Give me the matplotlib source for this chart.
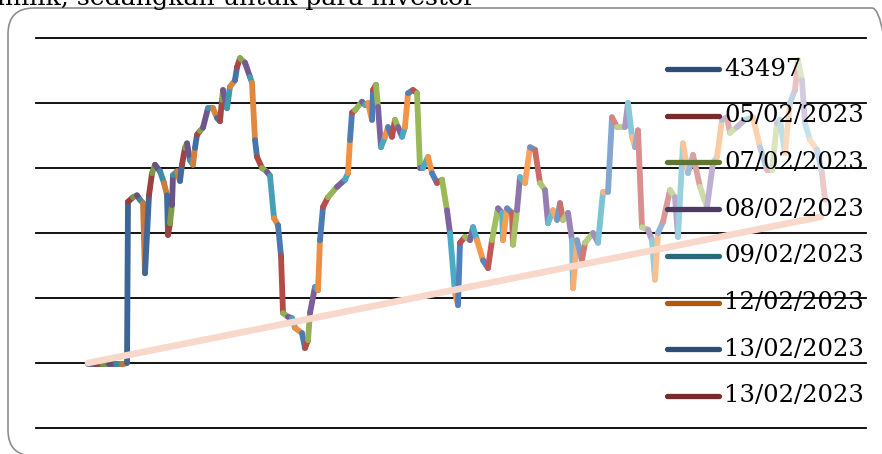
import matplotlib
matplotlib.use("Agg")
import matplotlib.pyplot as plt
import numpy as np
from matplotlib.patches import FancyBboxPatch
from matplotlib.lines import Line2D
import matplotlib.colors as mcolors

# ---------------- data ----------------
# x positions (chart units along the time axis) and series values
x_vals = [0, 7, 14, 21, 28, 34, 39,
          40, 45, 49, 52, 55, 57,
          61, 64, 67, 72, 76, 79, 80, 82, 84, 85, 89, 92, 94, 97, 99, 102, 105, 107, 109, 112, 115,
          120, 125, 129, 132, 134, 135, 139, 142, 147, 149, 152, 157, 162, 164, 167, 169, 174, 179,
          182, 186, 190, 193, 195, 200, 204, 207, 214, 217, 220, 222, 227, 230, 232, 235, 240, 249,
          257, 260, 262, 264, 267, 274, 277, 280, 284, 285, 288, 290, 293, 297, 300, 304, 307, 310,
          314, 317, 320, 325, 329, 332, 335, 340, 344, 349, 354, 359, 362, 367, 370, 372, 377, 382,
          385, 389, 395, 400, 404, 410, 414, 415, 419, 424, 425, 429, 432, 437, 442, 447, 452, 457,
          460, 465, 469, 472, 475, 480, 484, 485, 489, 494, 497, 505, 510, 515, 520, 524, 529, 537,
          540, 544, 547, 550, 554, 560, 564, 567, 570, 575, 582, 587, 590, 595, 600, 605, 612, 619,
          625, 629, 634, 639, 642, 649, 657, 665, 672, 679, 684, 689, 692, 697, 702, 707, 710, 714,
          717, 722, 729, 734, 737]
y_vals = [0.98, 0.98, 0.98, 0.98, 0.98, 0.98, 1.00,
          3.48, 3.55, 3.58, 3.51, 3.46, 2.38,
          3.58, 3.92, 4.05, 3.95, 3.77, 3.58, 2.97, 3.15, 3.43, 3.89, 3.95, 3.80, 4.05, 4.31, 4.38,
          4.12, 4.05, 4.31, 4.51, 4.57, 4.62, 4.92, 4.92, 4.77, 4.72, 5.05, 5.20, 4.92, 5.25, 5.35,
          5.55, 5.69, 5.62, 5.40, 5.31, 4.43, 4.17, 4.00, 3.94, 3.88, 3.23, 3.12, 2.65, 1.77, 1.71,
          1.69, 1.54, 1.46, 1.23, 1.35, 1.77, 2.17, 2.12, 2.89, 3.40, 3.55, 3.71, 3.82, 3.92, 4.43,
          4.85, 4.89, 5.02, 4.97, 5.00, 4.74, 5.20, 5.28, 4.94, 4.32, 4.48, 4.63, 4.48, 4.74, 4.63,
          4.48, 4.63, 5.15, 5.20, 5.15, 4.00, 4.00, 4.17, 3.92, 3.77, 3.82, 3.35, 3.00, 2.08, 1.89,
          2.85, 2.94, 2.89, 3.09, 2.89, 2.58, 2.46, 2.89, 3.38, 3.31, 2.89, 3.38, 3.31, 2.82, 3.35,
          3.86, 3.77, 4.32, 4.28, 3.77, 3.66, 3.15, 3.35, 3.20, 3.46, 3.20, 3.31, 2.89, 2.15, 2.89,
          2.58, 2.85, 3.00, 2.85, 3.63, 3.63, 4.78, 4.63, 4.63, 5.00, 4.48, 4.32, 4.58, 3.09, 3.05,
          2.89, 2.28, 3.00, 3.17, 3.66, 3.55, 2.94, 4.38, 3.92, 4.20, 3.71, 3.40, 4.08, 4.17, 4.74,
          4.78, 4.54, 4.63, 4.74, 4.78, 4.32, 3.97, 3.97, 4.69, 4.74, 4.23, 5.00, 5.20, 5.66, 5.35,
          4.69, 4.43, 4.28, 3.92, 3.51]

trend_x = [0, 733]
trend_y = [1.00, 3.25]

legend_labels = ["43497", "05/02/2023", "07/02/2023", "08/02/2023",
                 "09/02/2023", "12/02/2023", "13/02/2023", "13/02/2023"]
legend_colors = ["#2C4D75", "#772C2A", "#5F7530", "#4D3B62",
                 "#276A7C", "#B65708", "#2C4D75", "#772C2A"]

top_text = "milik, sedangkan untuk para investor"

# ---------------- style ----------------
palette = ["#4F81BD", "#C0504D", "#9BBB59", "#8064A2", "#4BACC6", "#F79646"]


def shade(hexc, f):
    r, g, b = mcolors.to_rgb(hexc)
    if f < 0:
        k = 1 + f
        return (r * k, g * k, b * k)
    return (r + (1 - r) * f, g + (1 - g) * f, b + (1 - b) * f)


def shade_factor(x):
    # darker at the start, full colour in the middle, lighter at the end
    return float(np.interp(x, [0, 210, 380, 560, 737], [-0.25, -0.05, 0.0, 0.38, 0.70]))


W, H = 882, 454
fig = plt.figure(figsize=(W / 100, H / 100), dpi=100)
fig.patch.set_facecolor("white")

# rounded outer frame (display pixel coords)
frame = FancyBboxPatch((8, -2), 890, 448, boxstyle="round,pad=0,rounding_size=26",
                       transform=None, facecolor="none", edgecolor="#8E8E8E",
                       linewidth=1.2, zorder=0)
fig.patches.append(frame)

# text of the page above the chart (clipped by the top edge as in the original)
fig.text(-3 / W, 1 - 4.5 / H, top_text, ha="left", va="baseline",
         family="DejaVu Serif", fontsize=18.2, color="black")

ax = fig.add_axes([36 / W, 26 / H, 830 / W, 390 / H])
ax.set_xlim(36 - 88, 866 - 88)
ax.set_ylim(0, 6)
ax.axis("off")

for yv in range(7):
    ax.axhline(yv, color="black", linewidth=1.3, clip_on=False, zorder=1)

lw = 4.2
n = len(x_vals)
for i in range(n - 1):
    xm = 0.5 * (x_vals[i] + x_vals[i + 1])
    col = shade(palette[i % 6], shade_factor(xm))
    ax.plot(x_vals[i:i + 2], y_vals[i:i + 2], color=col, linewidth=lw,
            solid_capstyle="round", solid_joinstyle="round", zorder=2 + i * 0.001,
            clip_on=False)

ax.plot(trend_x, trend_y, color="#F8D8CA", linewidth=4.8, solid_capstyle="round",
        zorder=3, clip_on=False)

# legend (manual placement in figure pixels)
for i, (lab, col) in enumerate(zip(legend_labels, legend_colors)):
    yp = 69 + i * 46.7
    fig.lines.append(Line2D([667 / W, 719 / W], [1 - yp / H, 1 - yp / H],
                            transform=fig.transFigure, color=col, linewidth=3.8,
                            solid_capstyle="round", zorder=5))
    fig.text(724 / W, 1 - yp / H, lab, ha="left", va="center",
             family="DejaVu Serif", fontsize=17.5, color="black", zorder=6)

fig.savefig("out.png", dpi=100)
